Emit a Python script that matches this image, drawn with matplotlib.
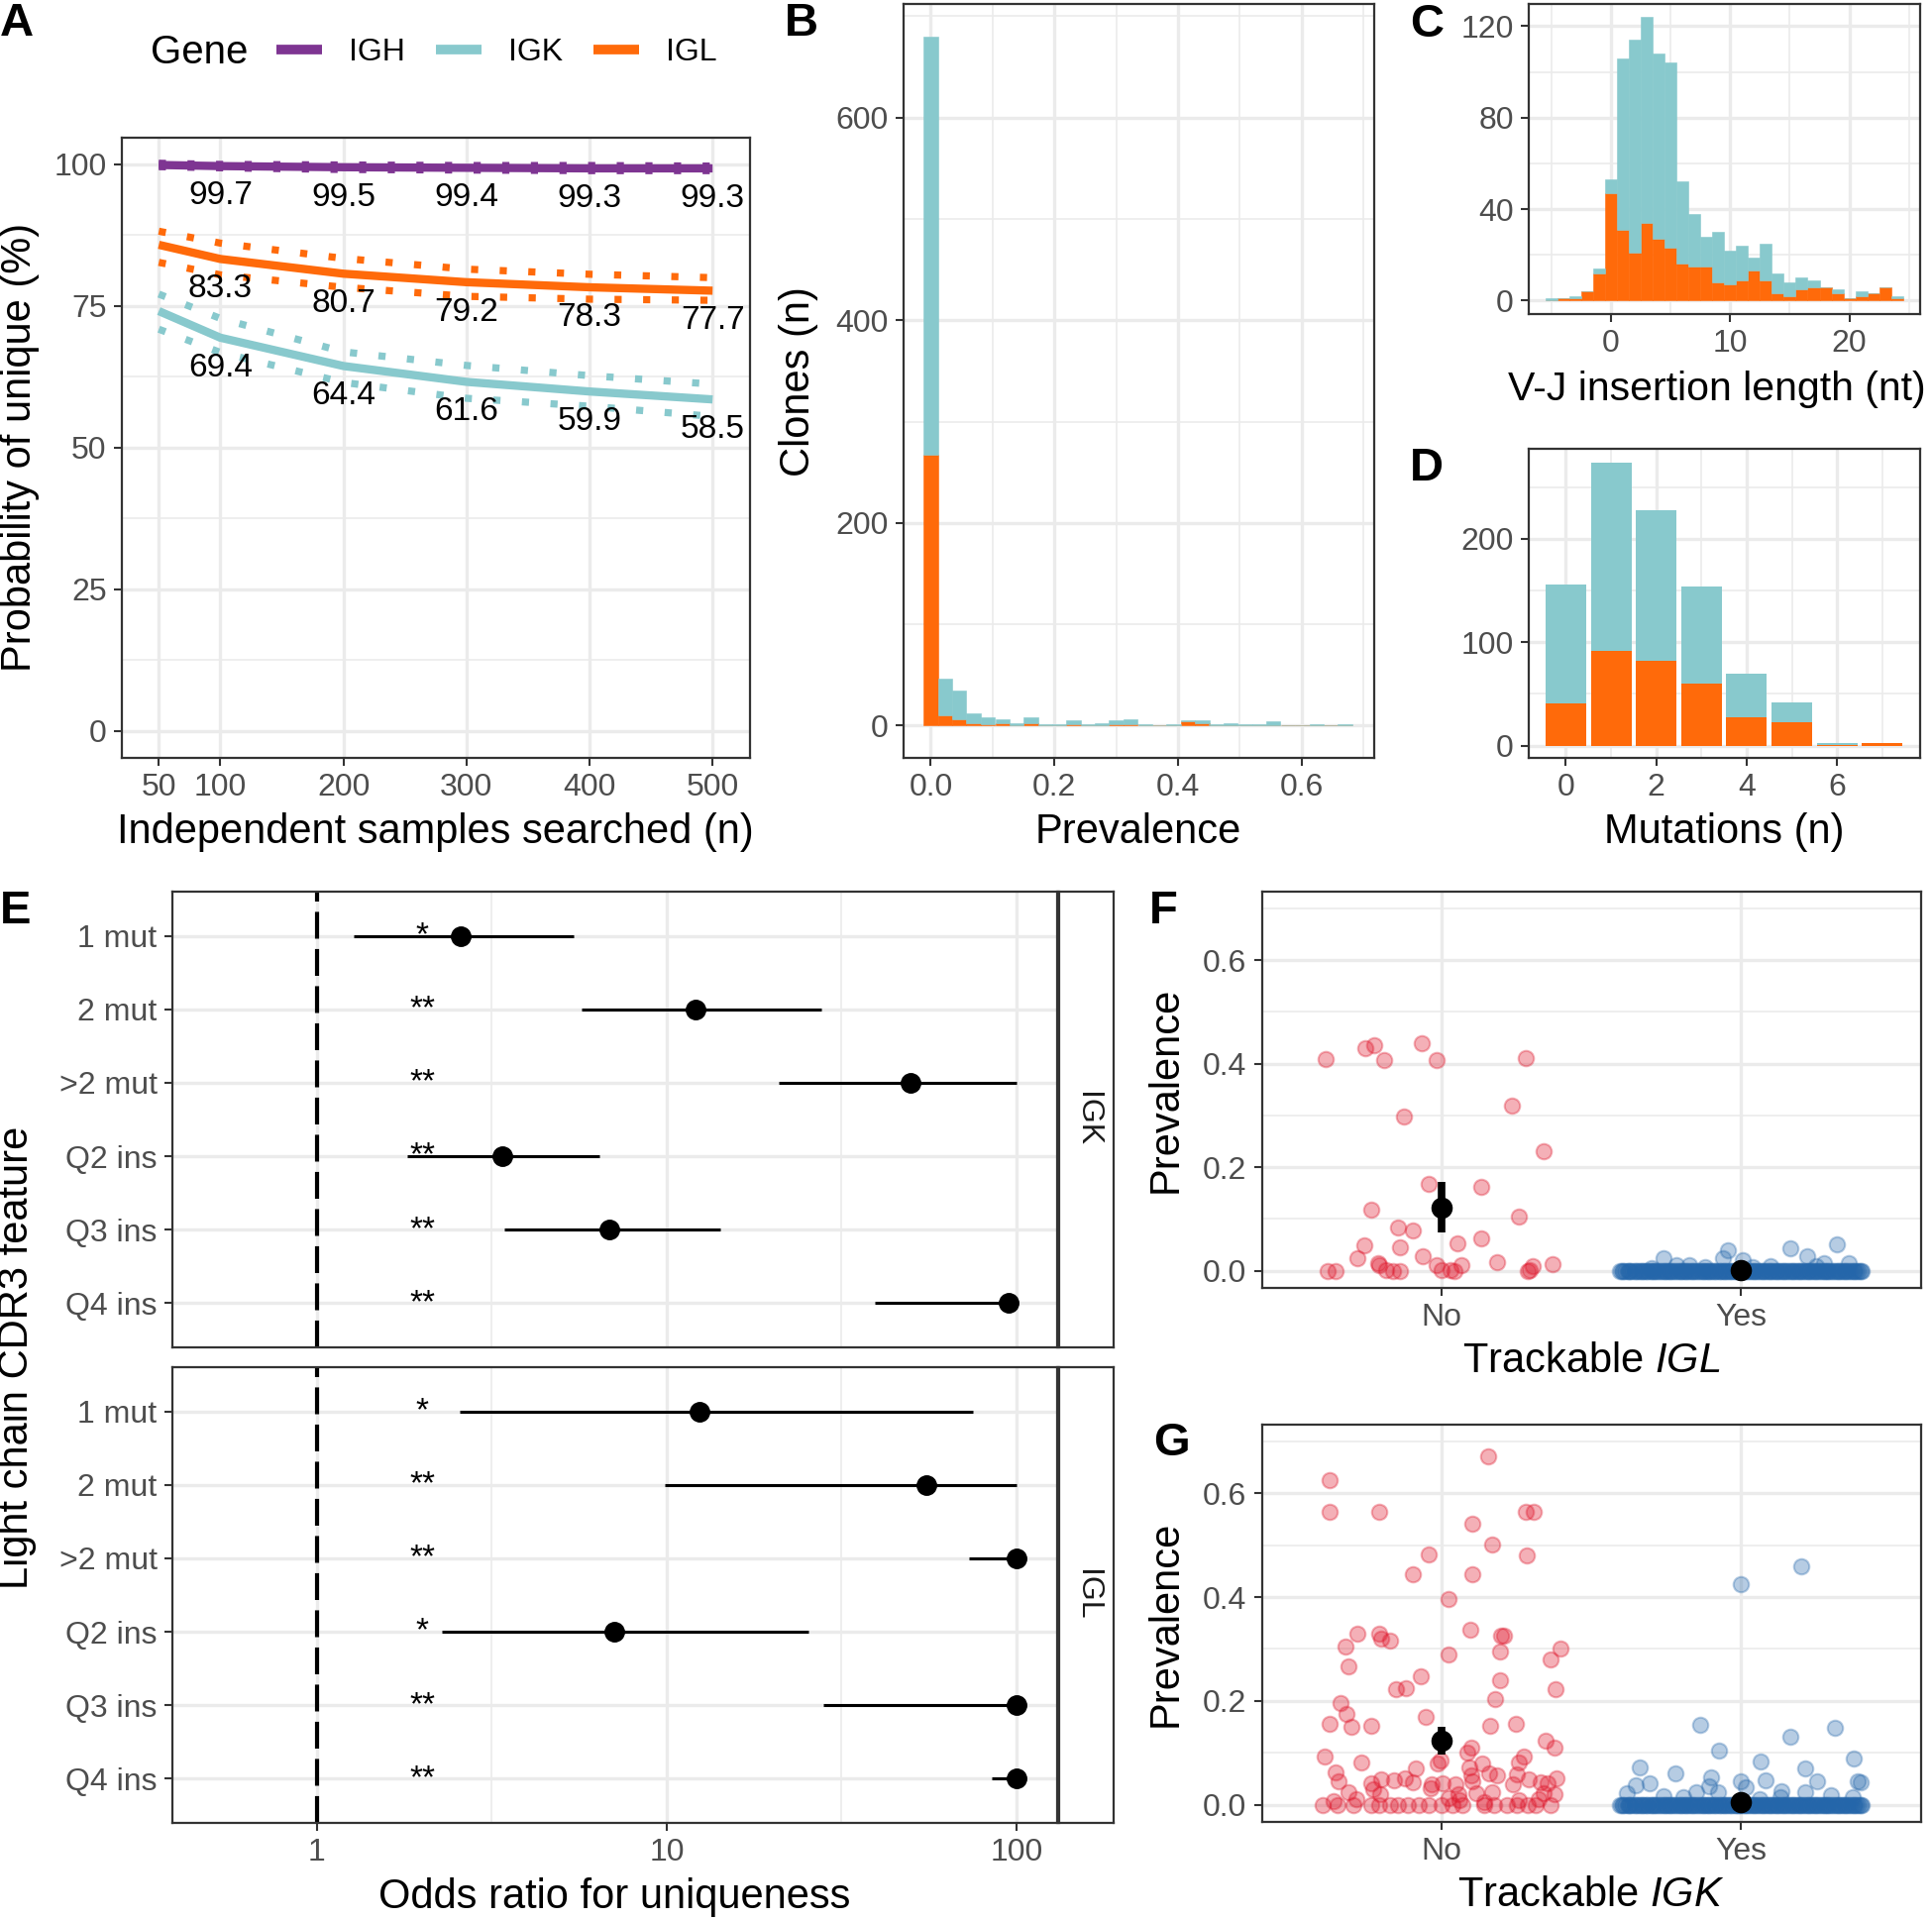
import numpy as np
import matplotlib
matplotlib.use("Agg")
import matplotlib.pyplot as plt
from matplotlib.lines import Line2D
from matplotlib.ticker import FixedLocator

plt.rcParams['font.family'] = ['Liberation Sans', 'DejaVu Sans']
plt.rcParams['mathtext.fontset'] = 'custom'
plt.rcParams['mathtext.it'] = 'Liberation Sans:italic'
plt.rcParams['mathtext.rm'] = 'Liberation Sans'

# colours
C_IGH = '#7E3592'
C_IGK = '#88C9CD'
C_IGL = '#FF6A0A'
C_NO = '#DE1126'
C_YES = '#2466AA'
GRID = '#EBEBEB'
DARK = '#333333'
TICKLAB = '#4D4D4D'

# ---------------- A: probability of unique ----------------
samples = [50, 100, 200, 300, 400, 500]
igh_mean = [99.9, 99.7, 99.5, 99.4, 99.3, 99.3]
igh_hi = [100.2, 100.0, 99.9, 99.8, 99.8, 99.7]
igh_lo = [99.6, 99.4, 99.1, 99.0, 98.9, 98.9]
igl_mean = [85.8, 83.3, 80.7, 79.2, 78.3, 77.7]
igl_hi = [88.2, 86.1, 83.4, 81.5, 80.6, 80.0]
igl_lo = [82.7, 80.5, 78.3, 76.7, 76.2, 76.0]
igk_mean = [74.1, 69.4, 64.4, 61.6, 59.9, 58.5]
igk_hi = [77.1, 72.8, 66.9, 64.5, 62.7, 61.2]
igk_lo = [70.9, 66.8, 61.5, 58.7, 57.3, 55.5]

# ---------------- B: prevalence histogram ----------------
prev_bins = [0.000, 0.023, 0.046, 0.069, 0.092, 0.116, 0.139, 0.162, 0.185, 0.208,
             0.231, 0.254, 0.277, 0.300, 0.323, 0.347, 0.370, 0.393, 0.416, 0.439,
             0.462, 0.485, 0.508, 0.531, 0.554, 0.578, 0.601, 0.624, 0.647, 0.670]
prev_igl = [267, 10, 6, 2, 1, 2, 0, 2, 0, 0, 1, 0, 0, 1, 1,
            0, 0, 0, 4, 2, 0, 0, 0, 0, 0, 0, 0, 0, 0, 0]
prev_igk = [413, 36, 29, 10, 7, 4, 2, 6, 1, 1, 4, 1, 2, 4, 5,
            1, 0, 1, 1, 3, 1, 2, 1, 1, 4, 0, 0, 1, 0, 1]
prev_width = 0.0231

# ---------------- C: V-J insertion length ----------------
ins_len = [-5, -4, -3, -2, -1, 0, 1, 2, 3, 4, 5, 6, 7, 8, 9,
           10, 11, 12, 13, 14, 15, 16, 17, 18, 19, 20, 21, 22, 23, 24]
ins_igl = [0, 1, 1, 4, 12, 47, 31, 21, 34, 27, 23, 16, 15, 15, 8,
           7, 9, 13, 9, 3, 2, 5, 6, 6, 3, 1, 2, 3, 6, 1]
ins_igk = [1, 0, 1, 0, 2, 6, 75, 93, 90, 81, 81, 36, 23, 13, 22,
           15, 15, 6, 16, 9, 6, 5, 3, 0, 2, 0, 2, 0, 0, 1]

# ---------------- D: mutations ----------------
mutations = [0, 1, 2, 3, 4, 5, 6, 7]
mut_igl = [41, 92, 82, 60, 27, 23, 1, 3]
mut_igk = [115, 182, 146, 94, 43, 19, 2, 0]

# ---------------- E: odds ratios ----------------
features = ['1 mut', '2 mut', '>2 mut', 'Q2 ins', 'Q3 ins', 'Q4 ins']
igk_or = [2.58, 12.1, 49.7, 3.38, 6.84, 94.9]
igk_or_lo = [1.27, 5.69, 20.9, 1.81, 3.43, 39.4]
igk_or_hi = [5.42, 27.7, 100, 6.43, 14.2, 95.0]
igk_sig = ['*', '**', '**', '**', '**', '**']
igl_or = [12.4, 55.4, 100, 7.1, 100, 100]
igl_or_lo = [2.56, 9.89, 72.9, 2.27, 28.1, 85.2]
igl_or_hi = [75.0, 100, 100, 25.4, 100, 100]
igl_sig = ['*', '**', '**', '*', '**', '**']

# ---------------- F: prevalence by trackable IGL ----------------
f_no_x = [0.613, 0.747, 0.776, 0.809, 0.934, 0.984, 1.283, 1.236, 0.875, 1.340,
          0.957, 1.132, 0.764, 1.259, 0.856, 0.906, 0.741, 0.861, 1.054, 1.132,
          0.720, 0.938, 1.186, 0.788, 0.793, 0.984, 1.068, 1.306, 1.370, 0.620,
          0.648, 0.816, 0.837, 0.863, 1.002, 1.031, 1.045, 1.288, 1.295]
f_no_y = [0.408, 0.430, 0.435, 0.406, 0.439, 0.406, 0.410, 0.318, 0.298, 0.231,
          0.167, 0.163, 0.118, 0.105, 0.084, 0.078, 0.050, 0.046, 0.053, 0.062,
          0.025, 0.029, 0.017, 0.014, 0.011, 0.011, 0.011, 0.010, 0.012, 0.000,
          0.000, 0.001, 0.000, 0.000, 0.001, 0.001, 0.000, 0.000, 0.001]
f_yes_x = [1.741, 1.957, 1.939, 2.165, 2.220, 2.321, 2.005, 2.278, 2.361, 1.783,
           1.826, 1.880, 2.100, 2.250, 1.700, 2.040]
f_yes_y = [0.025, 0.039, 0.024, 0.044, 0.028, 0.051, 0.020, 0.014, 0.015, 0.011,
           0.011, 0.008, 0.010, 0.009, 0.006, 0.007]
f_mean = [0.122, 0.002]
f_lo = [0.074, 0.000]
f_hi = [0.172, 0.004]

# ---------------- G: prevalence by trackable IGK ----------------
g_no_x = [0.628, 1.155, 0.628, 0.793, 1.283, 1.307, 1.104, 1.168, 0.957, 1.286,
          0.903, 1.102, 1.023, 1.095, 0.719, 0.793, 0.799, 0.828, 1.198, 1.210,
          1.398, 0.679, 1.023, 1.194, 1.365, 0.689, 0.932, 0.849, 0.880, 1.194,
          1.179, 1.382, 0.663, 0.682, 0.946, 0.627, 0.700, 0.764, 1.161, 1.250,
          1.347, 1.378, 1.101, 1.085, 0.611, 1.274, 1.259, 0.733, 0.988, 0.997,
          1.135, 0.913, 1.092, 0.646, 1.160, 1.186, 0.797, 0.878, 1.101, 1.253,
          1.293, 1.384, 0.655, 0.764, 0.840, 0.906, 0.967, 1.003, 1.047, 1.104,
          1.240, 1.332, 1.354, 0.689, 0.771, 0.795, 0.964, 1.056, 1.115, 1.170,
          1.342, 1.378, 0.641, 0.717, 1.023, 1.061, 1.141, 1.260, 1.326,
          0.602, 0.654, 0.707, 0.767, 0.793, 0.828, 0.854, 0.889, 0.924, 0.958,
          1.002, 1.036, 1.071, 1.141, 1.175, 1.219, 1.253, 1.288, 1.314, 1.363]
g_no_y = [0.626, 0.671, 0.565, 0.564, 0.565, 0.565, 0.542, 0.502, 0.482, 0.481,
          0.443, 0.443, 0.396, 0.338, 0.330, 0.329, 0.319, 0.317, 0.326, 0.326,
          0.300, 0.305, 0.289, 0.296, 0.279, 0.266, 0.247, 0.222, 0.224, 0.240,
          0.203, 0.223, 0.196, 0.174, 0.170, 0.156, 0.150, 0.153, 0.153, 0.156,
          0.123, 0.111, 0.111, 0.100, 0.092, 0.092, 0.081, 0.082, 0.079, 0.086,
          0.079, 0.070, 0.072, 0.062, 0.060, 0.056, 0.049, 0.051, 0.056, 0.058,
          0.049, 0.050, 0.045, 0.041, 0.047, 0.043, 0.040, 0.041, 0.040, 0.045,
          0.039, 0.043, 0.041, 0.024, 0.030, 0.020, 0.031, 0.021, 0.023, 0.025,
          0.022, 0.020, 0.008, 0.010, 0.012, 0.009, 0.005, 0.009, 0.010,
          0.000, 0.000, 0.000, 0.000, 0.000, 0.000, 0.000, 0.000, 0.000, 0.000,
          0.000, 0.000, 0.000, 0.000, 0.000, 0.000, 0.000, 0.000, 0.000, 0.000]
g_yes_x = [2.000, 2.200, 1.863, 2.314, 2.165, 1.927, 2.375, 2.064, 1.663, 2.214,
           1.781, 2.082, 2.255, 1.899, 1.694, 1.648, 2.000, 2.391, 2.399, 1.892,
           1.849, 1.922, 2.017, 2.134, 2.214, 2.300, 1.618, 1.740, 1.809, 2.061,
           2.130, 2.373]
g_yes_y = [0.424, 0.459, 0.154, 0.148, 0.131, 0.105, 0.089, 0.084, 0.071, 0.070,
           0.061, 0.047, 0.045, 0.053, 0.041, 0.037, 0.045, 0.045, 0.043, 0.035,
           0.025, 0.024, 0.033, 0.026, 0.024, 0.018, 0.022, 0.016, 0.015, 0.010,
           0.014, 0.015]
g_mean = [0.123, 0.006]
g_lo = [0.097, 0.003]
g_hi = [0.150, 0.009]

# clones with zero prevalence among trackable ones (jittered positions)
yes_zero_x = [1.596, 1.607, 1.621, 1.630, 1.644, 1.655, 1.667, 1.678, 1.690, 1.703,
              1.712, 1.726, 1.737, 1.748, 1.761, 1.772, 1.783, 1.797, 1.806, 1.819,
              1.831, 1.842, 1.853, 1.866, 1.878, 1.889, 1.901, 1.912, 1.925, 1.936,
              1.947, 1.959, 1.971, 1.984, 1.994, 2.006, 2.017, 2.030, 2.041, 2.053,
              2.064, 2.077, 2.088, 2.099, 2.112, 2.123, 2.135, 2.146, 2.158, 2.171,
              2.182, 2.193, 2.205, 2.217, 2.229, 2.240, 2.252, 2.263, 2.276, 2.287,
              2.298, 2.311, 2.322, 2.334, 2.346, 2.357, 2.369, 2.381, 2.392, 2.404,
              1.601, 1.613, 1.626, 1.637, 1.650, 1.661, 1.673, 1.684, 1.697, 1.708,
              1.719, 1.731, 1.743, 1.755, 1.766, 1.778, 1.790, 1.802, 1.813, 1.825,
              1.836, 1.848, 1.860, 1.872, 1.884, 1.895, 1.907, 1.918, 1.930, 1.942,
              1.953, 1.965, 1.978, 1.989, 2.000, 2.011, 2.024, 2.036, 2.047, 2.058,
              2.071, 2.083, 2.094, 2.106, 2.117, 2.129, 2.141, 2.152, 2.164, 2.176,
              2.188, 2.199, 2.211, 2.223, 2.235, 2.246, 2.257, 2.270, 2.281, 2.292,
              2.305, 2.316, 2.328, 2.340, 2.351, 2.363, 2.375, 2.386, 2.398]

# ================= figure =================
W, H = 1950, 1938
fig = plt.figure(figsize=(W / 100, H / 100), dpi=100)


def add_ax(left, top, right, bottom):
    return fig.add_axes([left / W, 1 - bottom / H, (right - left) / W, (bottom - top) / H])


def style(ax):
    ax.set_axisbelow(True)
    for s in ax.spines.values():
        s.set_color(DARK)
        s.set_linewidth(1.6)
    ax.tick_params(which='major', length=6, width=1.5, color=DARK, labelsize=23,
                   labelcolor=TICKLAB, pad=5)
    ax.tick_params(which='minor', length=0)
    ax.grid(which='major', color=GRID, lw=2.4)
    ax.grid(which='minor', color=GRID, lw=1.2)


def xlabel_at(ax, text, ypix, size=30, xpix=None, ha='center'):
    ax.set_xlabel(text, fontsize=size)
    bb = ax.get_position()
    xf = 0.5 if xpix is None else (xpix / W - bb.x0) / bb.width
    ax.xaxis.set_label_coords(xf, ((1 - ypix / H) - bb.y0) / bb.height)
    ax.xaxis.label.set_va('center')
    ax.xaxis.label.set_ha(ha)


def ylabel_at(ax, text, xpix, size=30):
    ax.set_ylabel(text, fontsize=size)
    bb = ax.get_position()
    ax.yaxis.set_label_coords((xpix / W - bb.x0) / bb.width, 0.5)
    ax.yaxis.label.set_va('center')
    ax.yaxis.label.set_ha('center')


def letter(x, y, s):
    fig.text(x / W, 1 - y / H, s, fontsize=34, fontweight='bold', ha='left', va='baseline')


# ---- A ----
axA = add_ax(123, 138.5, 756.5, 765)
style(axA)
for mean, lo, hi, col in [(igh_mean, igh_lo, igh_hi, C_IGH),
                          (igk_mean, igk_lo, igk_hi, C_IGK),
                          (igl_mean, igl_lo, igl_hi, C_IGL)]:
    axA.plot(samples, mean, color=col, lw=6, solid_capstyle='butt')
    for band in (lo, hi):
        axA.plot(samples, band, color=col, lw=5.2, ls=(0, (1, 3)), dash_capstyle='butt')
    for x, v in zip(samples[1:], mean[1:]):
        axA.text(x, v - 5.3, f'{v:.1f}', ha='center', va='center', fontsize=24, clip_on=False)
axA.set_xlim(20, 530)
axA.set_ylim(-4.8, 104.8)
axA.set_xticks(samples)
axA.set_yticks([0, 25, 50, 75, 100])
axA.yaxis.set_minor_locator(FixedLocator([12.5, 37.5, 62.5, 87.5]))
axA.xaxis.set_minor_locator(FixedLocator([]))
xlabel_at(axA, 'Independent samples searched (n)', 840)
ylabel_at(axA, 'Probability of unique (%)', 20)
letter(0, 36, 'A')

fig.text(152 / W, 1 - 53 / H, 'Gene', fontsize=29, ha='left', va='center')
handles = [Line2D([], [], color=c, lw=7, solid_capstyle='butt') for c in (C_IGH, C_IGK, C_IGL)]
fig.legend(handles, ['IGH', 'IGK', 'IGL'], ncol=3, loc='center left',
           bbox_to_anchor=(279 / W, 1 - 53 / H), frameon=False, fontsize=23,
           handlelength=1.45, handletextpad=0.85, columnspacing=0.95,
           borderpad=0, borderaxespad=0)

# ---- B ----
axB = add_ax(912, 4.4, 1386.5, 765)
style(axB)
axB.bar(prev_bins, prev_igl, width=prev_width, color=C_IGL, lw=0.4, edgecolor=C_IGL)
axB.bar(prev_bins, prev_igk, width=prev_width, bottom=prev_igl, color=C_IGK, lw=0.4,
        edgecolor=C_IGK)
axB.set_xlim(-0.0439, 0.7165)
axB.set_ylim(-31.9, 711.7)
axB.set_xticks([0, 0.2, 0.4, 0.6])
axB.set_xticklabels(['0.0', '0.2', '0.4', '0.6'])
axB.set_yticks([0, 200, 400, 600])
axB.xaxis.set_minor_locator(FixedLocator([0.1, 0.3, 0.5, 0.7]))
axB.yaxis.set_minor_locator(FixedLocator([100, 300, 500, 700]))
xlabel_at(axB, 'Prevalence', 840)
ylabel_at(axB, 'Clones (n)', 806)
letter(792, 36, 'B')

# ---- C ----
axC = add_ax(1543, 4.4, 1937.7, 317)
style(axC)
axC.bar(ins_len, ins_igl, width=1.0, color=C_IGL, lw=0.4, edgecolor=C_IGL)
axC.bar(ins_len, ins_igk, width=1.0, bottom=ins_igl, color=C_IGK, lw=0.4, edgecolor=C_IGK)
axC.set_xlim(-6.87, 25.9)
axC.set_ylim(-5.9, 129.5)
axC.set_xticks([0, 10, 20])
axC.set_yticks([0, 40, 80, 120])
axC.xaxis.set_minor_locator(FixedLocator([-5, 5, 15, 25]))
axC.yaxis.set_minor_locator(FixedLocator([20, 60, 100]))
xlabel_at(axC, 'V-J insertion length (nt)', 393, size=29.5, xpix=1944, ha='right')
letter(1423, 37, 'C')

# ---- D ----
axD = add_ax(1543, 453, 1937.7, 765)
style(axD)
axD.bar(mutations, mut_igl, width=0.9, color=C_IGL, lw=0)
axD.bar(mutations, mut_igk, width=0.9, bottom=mut_igl, color=C_IGK, lw=0)
axD.set_xlim(-0.82, 7.83)
axD.set_ylim(-11.8, 287)
axD.set_xticks([0, 2, 4, 6])
axD.set_yticks([0, 100, 200])
axD.xaxis.set_minor_locator(FixedLocator([1, 3, 5, 7]))
axD.yaxis.set_minor_locator(FixedLocator([50, 150, 250]))
xlabel_at(axD, 'Mutations (n)', 840)
letter(1423, 485, 'D')

# ---- E ----
rows = np.arange(1, len(features) + 1)
facets = [(900, 1360, 'IGK', igk_or, igk_or_lo, igk_or_hi, igk_sig),
          (1380, 1840, 'IGL', igl_or, igl_or_lo, igl_or_hi, igl_sig)]
for i, (top, bottom, name, orv, lo, hi, sig) in enumerate(facets):
    ax = add_ax(173.8, top, 1066.6, bottom)
    style(ax)
    ax.set_xscale('log')
    ax.axvline(1, color='black', lw=3, ls=(0, (6.5, 2.5)), zorder=2)
    ax.hlines(rows, lo, hi, color='black', lw=2.2, zorder=3)
    ax.plot(orv, rows, 'o', color='black', ms=14, zorder=4)
    for r, s in zip(rows, sig):
        ax.text(2.0, r, s, ha='center', va='center', fontsize=24, zorder=5)
    ax.set_xlim(10 ** -0.414, 10 ** 2.115)
    ax.set_ylim(6.6, 0.4)
    ax.set_yticks(rows)
    ax.set_yticklabels(features)
    ax.xaxis.set_major_locator(FixedLocator([1, 10, 100]))
    ax.xaxis.set_minor_locator(FixedLocator([10 ** 0.5, 10 ** 1.5]))
    ax.set_xticklabels(['1', '10', '100'])
    ax.grid(which='major', axis='y', color=GRID, lw=2.4)
    if i == 0:
        ax.tick_params(axis='x', which='major', length=0, labelbottom=False)
    else:
        xlabel_at(ax, 'Odds ratio for uniqueness', 1915)
    st = add_ax(1069, top, 1124, bottom)
    st.set_xticks([])
    st.set_yticks([])
    for s in st.spines.values():
        s.set_color(DARK)
        s.set_linewidth(1.6)
    st.text(0.5, 0.5, name, rotation=-90, ha='center', va='center', fontsize=23,
            color='#1A1A1A', transform=st.transAxes)
fig.text(17 / W, 1 - 1370 / H, 'Light chain CDR3 feature', rotation=90, fontsize=30,
         ha='center', va='center')
letter(0, 932, 'E')

# ---- F & G ----
panels = [(900, 1300, f_no_x, f_no_y, f_yes_x, f_yes_y, f_mean, f_lo, f_hi,
           'Trackable $IGL$', 1374, 'F', 1160, 932),
          (1438, 1839, g_no_x, g_no_y, g_yes_x, g_yes_y, g_mean, g_lo, g_hi,
           'Trackable $IGK$', 1913, 'G', 1164, 1469)]
for (top, bottom, nx, ny, yx, yy, mean, lo, hi, lab, ylab, let, lx, ly) in panels:
    ax = add_ax(1273.5, top, 1938.6, bottom)
    style(ax)
    ax.scatter(nx, ny, s=125, color=C_NO, alpha=0.33, lw=1.5, zorder=3)
    ax.scatter(yes_zero_x, [0.0] * len(yes_zero_x), s=125, color=C_YES, alpha=0.35,
               lw=1.5, zorder=3)
    ax.scatter(yx, yy, s=125, color=C_YES, alpha=0.33, lw=1.5, zorder=3)
    for k, (m, l, h) in enumerate(zip(mean, lo, hi)):
        ax.vlines(k + 1, l, h, color='black', lw=5.5, zorder=4)
        ax.plot(k + 1, m, 'o', color='black', ms=14.5, zorder=5)
    ax.set_xlim(0.4, 2.6)
    ax.set_ylim(-0.033, 0.732)
    ax.set_xticks([1, 2])
    ax.set_xticklabels(['No', 'Yes'])
    ax.set_yticks([0, 0.2, 0.4, 0.6])
    ax.set_yticklabels(['0.0', '0.2', '0.4', '0.6'])
    ax.yaxis.set_minor_locator(FixedLocator([0.1, 0.3, 0.5, 0.7]))
    ax.xaxis.set_minor_locator(FixedLocator([]))
    xlabel_at(ax, lab, ylab)
    ylabel_at(ax, 'Prevalence', 1177)
    letter(lx, ly, let)

fig.savefig('out.png', dpi=100)
